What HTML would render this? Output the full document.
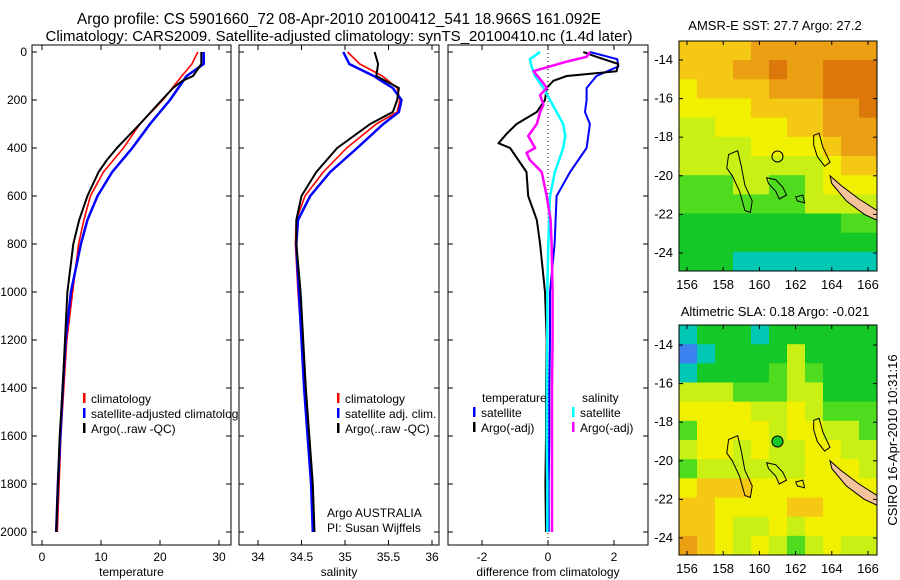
<!DOCTYPE html>
<html><head><meta charset="utf-8"><style>
html,body{margin:0;padding:0;background:#fff;width:900px;height:580px;overflow:hidden}
svg{display:block;font-family:"Liberation Sans",sans-serif;font-size:12px}
</style></head><body>
<svg id="fig" width="900" height="580" viewBox="0 0 900 580">
<text x="339" y="24" text-anchor="middle" font-size="15.3">Argo profile: CS 5901660_72 08-Apr-2010 20100412_541 18.966S 161.092E</text>
<text x="339" y="41" text-anchor="middle" font-size="15">Climatology: CARS2009. Satellite-adjusted climatology: synTS_20100410.nc (1.4d later)</text>
<g id="g"></g>
<text x="775" y="30" text-anchor="middle" font-size="13">AMSR-E SST: 27.7 Argo: 27.2</text>
<text x="775" y="316" text-anchor="middle" font-size="13">Altimetric SLA: 0.18 Argo: -0.021</text>
<text transform="translate(897,440) rotate(-90)" text-anchor="middle" font-size="13">CSIRO 16-Apr-2010 10:31:16</text>
</svg>
<script>
// ---- profile data ----
const depthT = [0,50,100,200,300,400,500,600,700,800,1000,1200,1400,1600,1800,2000];
const tempClim = [26.4,25.4,23.7,20.5,16.6,13.8,10.4,8.2,7.1,6.2,5.2,4.2,3.7,3.2,2.9,2.6];
const tempSat = [27.4,27.4,24.5,21.7,18.3,15.3,11.9,9.4,7.7,6.6,4.9,4.0,3.5,3.1,2.7,2.4];
const depthArgoT = [0,50,100,120,150,200,300,400,450,500,600,700,800,1000,1200,1400,1600,1800,2000];
const tempArgo = [27.0,27.0,25.6,23.8,22.2,20.3,16.6,12.7,11.0,9.6,7.7,6.3,5.3,4.3,3.9,3.5,3.0,2.7,2.4];
const depthS = [0,50,100,150,200,250,300,400,500,600,700,800,1000,1200,1400,1600,1800,2000];
const salClim = [35.03,35.17,35.43,35.60,35.63,35.60,35.36,35.02,34.75,34.54,34.44,34.43,34.46,34.50,34.53,34.57,34.62,34.64];
const salSat = [34.98,35.05,35.33,35.55,35.65,35.62,35.44,35.14,34.83,34.60,34.46,34.44,34.47,34.50,34.53,34.57,34.61,34.63];
const salArgo = [35.34,35.38,35.36,35.62,35.60,35.55,35.29,34.91,34.67,34.50,34.44,34.44,34.49,34.52,34.55,34.59,34.63,34.65];
const depthD1 = [0,30,60,100,150,200,250,300,400,500,600,800,1000,1200,1400,1600,1800,2000];
const diffTempSat = [1.27,2.1,2.13,1.47,1.17,1.17,1.12,1.27,1.17,0.67,0.26,0.2,0.06,0.06,0.04,0.04,0.02,0.02];
const depthD2 = [0,20,50,80,100,120,150,200,250,300,340,380,400,500,600,700,800,1000,1200,1400,1600,1800,2000];
const diffTempArgo = [1.07,1.47,2.13,2.08,0.57,0.16,-0.04,-0.09,-0.34,-0.95,-1.25,-1.5,-1.15,-0.65,-0.6,-0.34,-0.24,-0.09,-0.04,-0.06,-0.06,-0.08,-0.06];
const depthD3 = [0,30,60,100,150,200,250,300,350,400,500,600,800,1000,1200,1400,1600,1800,2000];
const diffSalSat = [-0.24,-0.55,-0.5,-0.39,-0.14,0.06,0.26,0.46,0.52,0.46,0.21,0.06,0.01,-0.02,-0.02,-0.04,-0.04,-0.02,-0.02];
const depthD4 = [0,20,40,80,130,150,180,220,250,300,350,400,420,450,500,600,700,800,1000,1200,1400,1600,1800,2000];
const diffSalArgo = [1.27,1.17,0.57,-0.44,-0.14,-0.04,-0.24,-0.14,-0.24,-0.34,-0.6,-0.39,-0.65,-0.55,-0.19,-0.04,0.08,0.11,0.14,0.14,0.12,0.12,0.12,0.12];
const depthTicks = [0,200,400,600,800,1000,1200,1400,1600,1800,2000];
const tempTicks = [0,10,20,30];
const salTicks = [34,34.5,35,35.5,36];
const diffTicks = [-2,0,2];
// ---- map data (colour index 0..9) ----
const lonTicks = [156,158,160,162,164,166];
const latTicks = [-14,-16,-18,-20,-22,-24];
const sstGrid = [
[6,6,6,6,7,7,7,7,7,7,7],
[6,6,6,7,7,8,7,7,8,8,8],
[5,6,6,6,6,7,7,7,8,8,8],
[5,5,5,5,6,6,6,6,7,7,8],
[4,4,5,5,5,5,6,6,7,7,7],
[4,4,4,4,5,5,5,5,6,7,7],
[4,4,4,4,4,4,4,4,5,6,6],
[3,3,3,4,4,3,3,4,5,5,5],
[3,3,3,3,3,3,3,4,4,4,4],
[2,2,2,2,2,2,2,2,2,3,3],
[2,2,2,2,2,2,2,2,2,2,2],
[2,2,2,1,1,1,1,1,1,1,1]];
const slaGrid = [
[1,2,2,2,1,2,2,2,2,2,2],
[0,1,2,2,2,2,4,2,2,2,2],
[1,2,2,2,2,3,4,3,2,2,2],
[4,4,4,3,3,3,4,4,2,2,2],
[5,5,5,5,4,4,5,4,3,3,3],
[3,5,5,5,5,4,5,5,4,4,3],
[4,5,5,4,5,4,4,5,5,4,4],
[3,4,4,4,4,4,4,5,5,5,4],
[5,6,6,6,5,5,5,5,5,5,5],
[6,6,5,5,5,5,6,6,5,5,5],
[6,6,5,4,4,5,4,5,5,5,5],
[7,6,5,4,5,4,3,4,5,4,4]];
const palette = ['#3c82f0','#00c8b4','#14c828','#50dc1e','#c8f014','#f0f000','#f5c814','#eba014','#dc780a','#aa140a'];
const island1Lon=[158.3,158.8,159.0,159.2,159.6,159.5,159.2,158.9,158.5,158.2,158.3];
const island1Lat=[-18.9,-18.7,-19.5,-20.5,-21.3,-21.9,-21.8,-20.8,-20.0,-19.6,-18.9];
const island2Lon=[163.0,163.3,163.5,163.9,163.6,163.2,163.0,163.0];
const island2Lat=[-17.9,-17.8,-18.5,-19.3,-19.5,-19.0,-18.4,-17.9];
const island3Lon=[160.4,160.9,161.3,161.5,161.1,160.9,160.5,160.4];
const island3Lat=[-20.1,-20.2,-20.6,-21.0,-21.2,-20.8,-20.4,-20.1];
const island4Lon=[162.0,162.4,162.5,162.1,162.0];
const island4Lat=[-21.1,-21.0,-21.4,-21.3,-21.1];
const caledLon=[163.9,164.5,165.5,166.5,166.5,165.8,164.8,164.0,163.9];
const caledLat=[-20.0,-20.5,-21.2,-21.8,-22.3,-22.0,-21.3,-20.4,-20.0];
const argoLon=161.0, argoLat=-19.0;

const NS='http://www.w3.org/2000/svg';
const G=document.getElementById('g');
function mk(tag,attrs,parent){const e=document.createElementNS(NS,tag);for(const k in attrs)e.setAttribute(k,attrs[k]);(parent||G).appendChild(e);return e;}
const yD=d=>52+0.24*d;

function panel(name,x0,x1,xs,ticks,label,showDepth){
  const r=mk('rect',{x:x0,y:45,width:x1-x0,height:500,fill:'#fff',stroke:'#000','stroke-width':1});
  
  
  depthTicks.forEach(d=>{
    const y=yD(d);
    mk('line',{x1:x0,y1:y,x2:x0+5,y2:y,stroke:'#000'});
    mk('line',{x1:x1,y1:y,x2:x1-5,y2:y,stroke:'#000'});
    if(showDepth){const t=mk('text',{x:27,y:y+4,'text-anchor':'end'});t.textContent=d;
      
      }
  });
  ticks.forEach(v=>{
    const x=xs(v);
    mk('line',{x1:x,y1:545,x2:x,y2:540,stroke:'#000'});
    mk('line',{x1:x,y1:45,x2:x,y2:50,stroke:'#000'});
    const t=mk('text',{x:x,y:561,'text-anchor':'middle'});t.textContent=v;
    
    
  });
  const t=mk('text',{x:(x0+x1)/2,y:576,'text-anchor':'middle'});t.textContent=label;
  
  
}
function line(name,xs,vals,depths,color,w){
  const p=mk('polyline',{points:vals.map((v,i)=>xs(v).toFixed(1)+','+yD(depths[i]).toFixed(1)).join(' '),fill:'none',stroke:color,'stroke-width':w,'stroke-linejoin':'round'});
  
  
}
function leg(name,x,y,color,text){
  if(color){const m=mk('rect',{x:x,y:y-10,width:2.5,height:10,fill:color});
    
    }
  const t=mk('text',{x:x+8,y:y});t.textContent=text;
  
  
}
// panel 1
const xT=v=>42+v*5.9;
panel('temperature-panel',32,231,xT,tempTicks,'temperature',true);
line('temp-climatology',xT,tempClim,depthT,'#f00',1.6);
line('temp-satellite',xT,tempSat,depthT,'#00f',2.5);
line('temp-argo',xT,tempArgo,depthArgoT,'#000',2);
leg('legend-climatology',83,403,'#f00','climatology');
leg('legend-satellite-adjusted',83,418,'#00f','satellite-adjusted climatology');
leg('legend-argo',83,433,'#000','Argo(..raw -QC)');
// panel 2
const xS=v=>258+(v-34)*87;
panel('salinity-panel',239,439,xS,salTicks,'salinity',false);
line('sal-climatology',xS,salClim,depthS,'#f00',1.6);
line('sal-satellite',xS,salSat,depthS,'#00f',2.5);
line('sal-argo',xS,salArgo,depthS,'#000',2);
leg('legend2-climatology',337,403,'#f00','climatology');
leg('legend2-satellite',337,418,'#00f','satellite adj. clim.');
leg('legend2-argo',337,433,'#000','Argo(..raw -QC)');
leg('argo-australia',319,517,null,'Argo AUSTRALIA');
leg('pi-name',319,532,null,'PI: Susan Wijffels');
// panel 3
const xDf=v=>548+v*33;
panel('difference-panel',448,648,xDf,diffTicks,'difference from climatology',false);
mk('line',{x1:548,y1:45,x2:548,y2:545,stroke:'#000','stroke-dasharray':'1,3'});
line('diff-temp-satellite',xDf,diffTempSat,depthD1,'#00f',2);
line('diff-temp-argo',xDf,diffTempArgo,depthD2,'#000',2);
line('diff-sal-satellite',xDf,diffSalSat,depthD3,'#0ff',2.5);
line('diff-sal-argo',xDf,diffSalArgo,depthD4,'#f0f',2.5);
leg('legend3-temperature',474,402,null,'temperature');
leg('legend3-temp-satellite',473,417,'#00f','satellite');
leg('legend3-temp-argo',473,432,'#000','Argo(-adj)');
leg('legend3-salinity',574,402,null,'salinity');
leg('legend3-sal-satellite',572,417,'#0ff','satellite');
leg('legend3-sal-argo',572,432,'#f0f','Argo(-adj)');

// maps
function map(name,top,lat14,grid,argoFill,lonLabY){
  const L=679,R=877,B=top+230;
  const px=lon=>687+(lon-156)*18.1, py=lat=>lat14+(-14-lat)*19.3;
  const rows=grid.length, cols=grid[0].length;
  const cw=(R-L)/cols, ch=(B-top)/rows;
  grid.forEach((row,i)=>row.forEach((v,j)=>{
    const c=mk('rect',{x:(L+j*cw).toFixed(2),y:(top+i*ch).toFixed(2),width:(cw+0.5).toFixed(2),height:(ch+0.5).toFixed(2),fill:palette[v]});
    
    
  }));
  const clipId=name+'-clip';
  const cp=mk('clipPath',{id:clipId});mk('rect',{x:L,y:top,width:R-L,height:B-top},cp);
  const gg=mk('g',{'clip-path':'url(#'+clipId+')'});
  const poly=(lo,la,fill,nm)=>{const p=mk('polygon',{points:lo.map((v,i)=>px(v).toFixed(1)+','+py(la[i]).toFixed(1)).join(' '),fill:fill,stroke:'#000','stroke-width':1},gg);
    
    };
  poly(island1Lon,island1Lat,'none',name+'-contour');
  poly(island2Lon,island2Lat,'none',name+'-contour');
  poly(island3Lon,island3Lat,'none',name+'-contour');
  poly(island4Lon,island4Lat,'none',name+'-contour');
  poly(caledLon,caledLat,'#f5c39b','new-caledonia');
  const a=mk('circle',{cx:px(argoLon),cy:py(argoLat),r:5.5,fill:argoFill,stroke:'#000'});
  
  
  const f=mk('rect',{x:L,y:top,width:R-L,height:B-top,fill:'none',stroke:'#000'});
  
  
  lonTicks.forEach(v=>{const x=px(v);
    mk('line',{x1:x,y1:B,x2:x,y2:B-4,stroke:'#000'});mk('line',{x1:x,y1:top,x2:x,y2:top+4,stroke:'#000'});
    const t=mk('text',{x:x,y:lonLabY,'text-anchor':'middle','font-size':13});t.textContent=v;
    
    });
  latTicks.forEach(v=>{const y=py(v);
    mk('line',{x1:L,y1:y,x2:L+4,y2:y,stroke:'#000'});mk('line',{x1:R,y1:y,x2:R-4,y2:y,stroke:'#000'});
    const t=mk('text',{x:673,y:y+4,'text-anchor':'end','font-size':13});t.textContent=v;
    
    });
}
map('sst-map',41,60,sstGrid,'none',289);
map('sla-map',325,345,slaGrid,'#14c828',573);
</script>
</body></html>
